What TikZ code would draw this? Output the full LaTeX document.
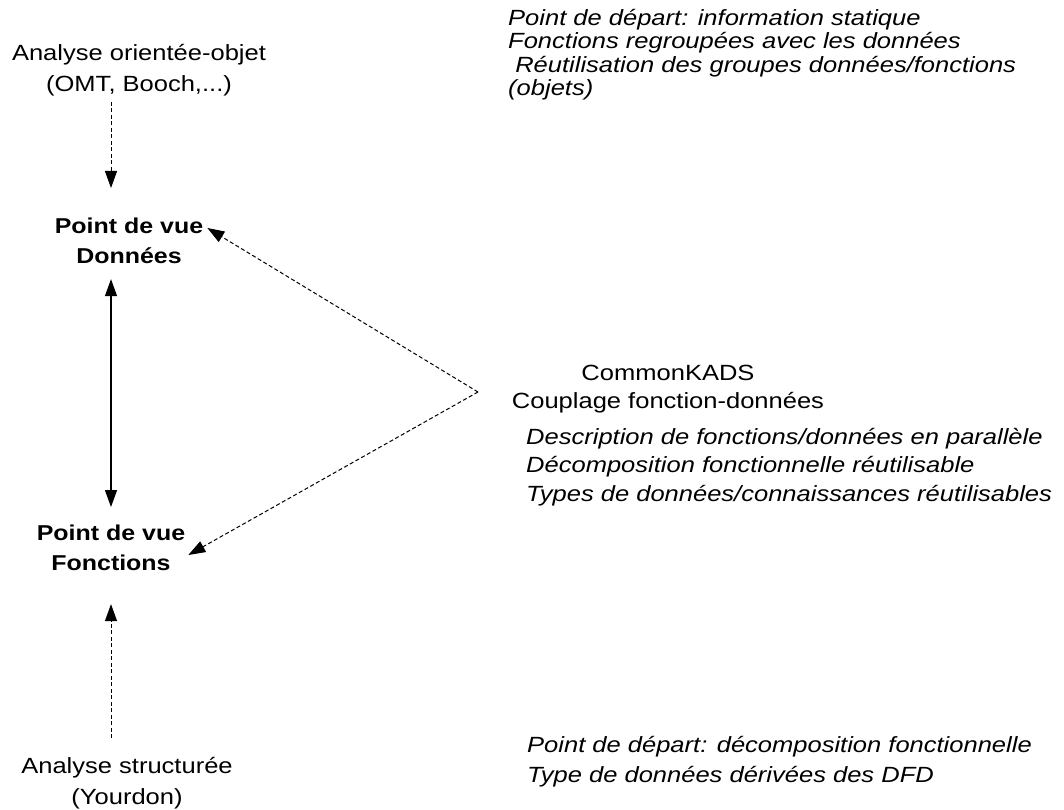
\documentclass[tikz,border=0pt]{standalone}
\usepackage{fontspec}
\setmainfont{Liberation Sans}[FakeStretch=1.16]
\usetikzlibrary{arrows.meta,calc}
% fixed-height strut so that a node's north sits 18pt above its first baseline
\newcommand\tstrut{\rule{0pt}{18pt}}

\begin{document}
\begin{tikzpicture}[x=1pt,y=-1pt,
  plain/.style={inner sep=0pt, align=center, font=\fontsize{22}{31}\selectfont},
  view/.style={inner sep=0pt, align=center, font=\fontsize{21.5}{30.5}\selectfont\bfseries},
  note/.style={inner sep=0pt, align=left, anchor=north west, font=\fontsize{22}{28.5}\selectfont\itshape},
  tip/.style={-{Triangle[length=17pt,width=12pt]}},
  dashlink/.style={tip, line width=1pt, dash pattern=on 4pt off 2.5pt},
  solidlink/.style={{Triangle[length=17pt,width=12pt]}-{Triangle[length=17pt,width=12pt]}, line width=1.2pt}
]
\useasboundingbox (0,0) rectangle (1064,810);

% vertical axis of the left column
\coordinate (axis) at (111,0);

% left column
\node[plain, anchor=north] (objet) at (139,42) {\tstrut Analyse orientée-objet\\(OMT, Booch,...)};
\node[view, anchor=north] (donnees) at (129,215) {\tstrut Point de vue\\Données};
\node[view, anchor=north] (fonctions) at (111,522) {\tstrut Point de vue\\Fonctions};
\node[plain, anchor=north] (struct) at (127,755) {\tstrut Analyse structurée\\(Yourdon)};

% right column
\node[note, font=\fontsize{22}{23.5}\selectfont\itshape] (objnotes) at (508,7)
  {\tstrut Point de départ: information statique\\
   Fonctions regroupées avec les données\\
   \ Réutilisation des groupes données/fonctions\\
   (objets)};
\node[plain, anchor=north, font=\fontsize{22}{28}\selectfont] (kads) at (668,362)
  {\tstrut CommonKADS\\Couplage fonction-données};
\node[note] (kadsnotes) at (526,426)
  {\tstrut Description de fonctions/données en parallèle\\
   Décomposition fonctionnelle réutilisable\\
   Types de données/connaissances réutilisables};
\node[note, font=\fontsize{22}{30}\selectfont\itshape] (structnotes) at (527,734)
  {\tstrut Point de départ: décomposition fonctionnelle\\
   Type de données dérivées des DFD};

% connectors
\coordinate (apex) at (478,392);
\draw[dashlink, shorten <=6pt, shorten >=27pt] (objet.south -| axis) -- (donnees.north -| axis);
\draw[solidlink, shorten <=15pt, shorten >=15pt] (donnees.south -| axis) -- (fonctions.north -| axis);
\draw[dashlink, shorten <=17pt, shorten >=33pt] (struct.north -| axis) -- (fonctions.south -| axis);
\draw[dashlink] (apex) -- ($(donnees.north east)+(4,13)$);
\draw[dashlink] (apex) -- ($(fonctions.north east)+(3,33)$);
\end{tikzpicture}
\end{document}
